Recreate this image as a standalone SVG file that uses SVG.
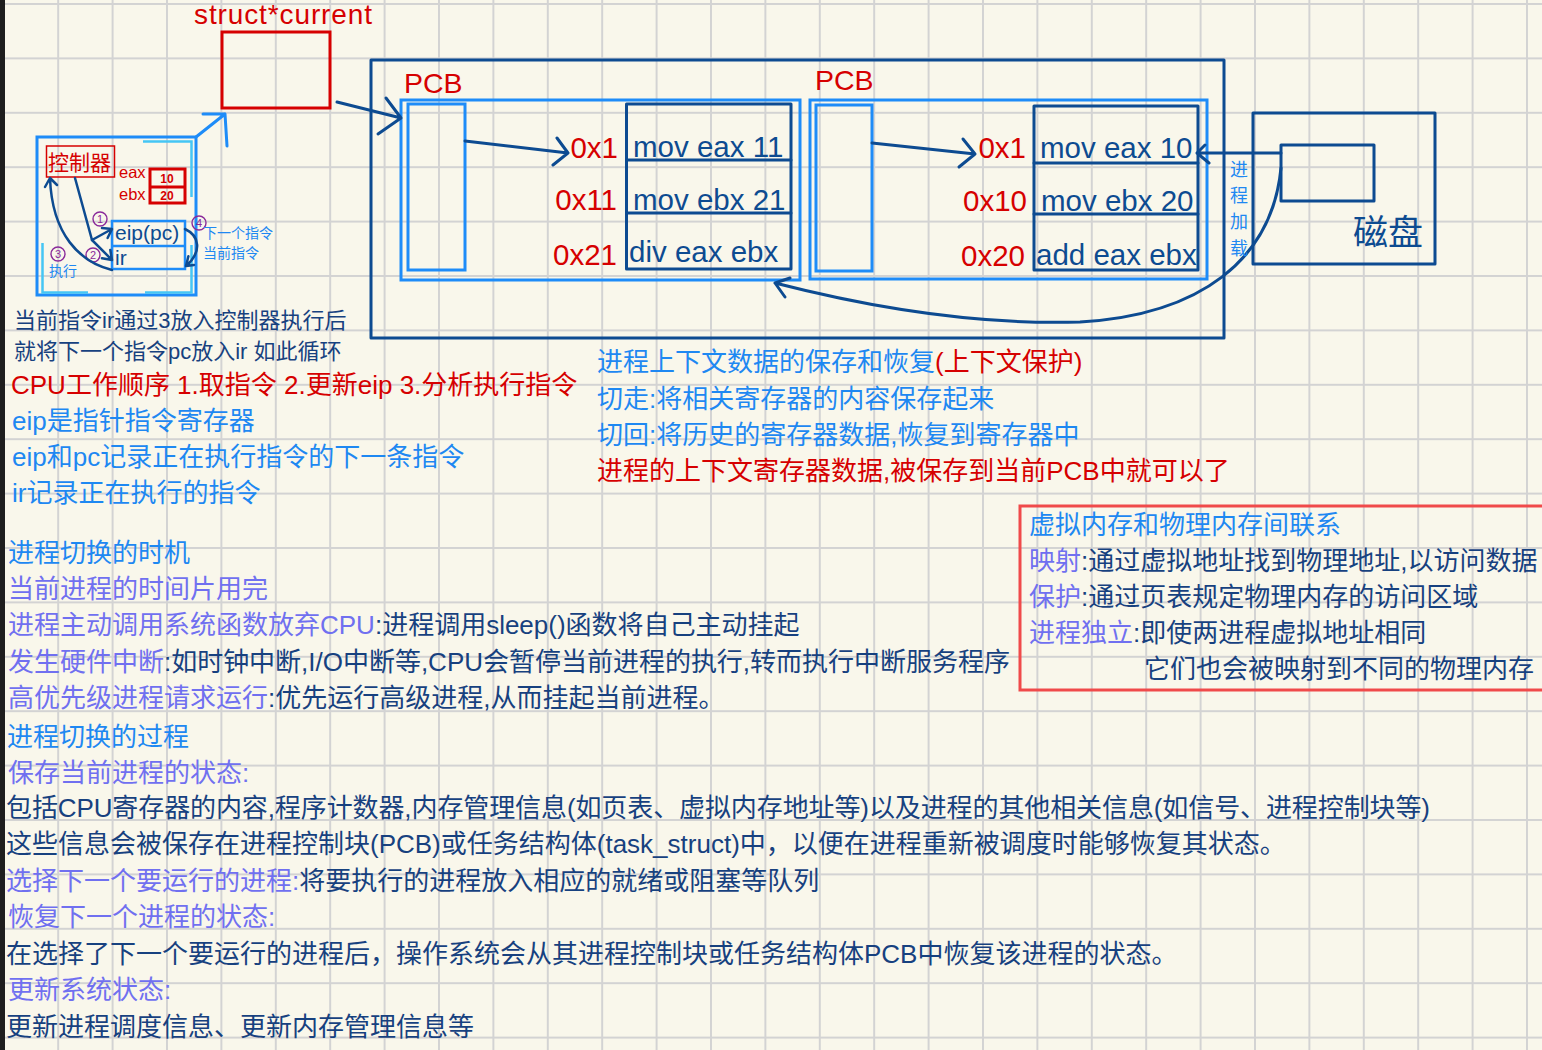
<svg xmlns="http://www.w3.org/2000/svg" width="1542" height="1050" viewBox="0 0 1542 1050">
<defs>
<pattern id="grid" x="2.8" y="3" width="54.4" height="54.4" patternUnits="userSpaceOnUse">
<path d="M1,0V54.4M0,1H54.4" stroke="#d3d3d3" stroke-width="2" fill="none"/>
</pattern>
<style>
text{font-family:"Liberation Sans","Noto Sans CJK SC",sans-serif;}
.nv{stroke:#0d4b91;fill:none;stroke-width:3;stroke-linecap:round;stroke-linejoin:round}
.nv2{stroke:#0d4b91;fill:none;stroke-width:2.5;stroke-linecap:round;stroke-linejoin:round}
.bb{stroke:#1e8cf8;fill:none;stroke-width:3}
.cy{stroke:#45c6f5;fill:none;stroke-width:2.5}
.red{fill:#d60000}
.navy{fill:#17417f}
.blue{fill:#1e88f2}
.pur{fill:#7070f0}
.dk{fill:#0d4b91}
.f26{font-size:26px}
.f22{font-size:22px}
.code{font-size:29.5px}
.circ{stroke:#8a2a9a;fill:none;stroke-width:1.4}
.num{fill:#8a2a9a;font-size:11px;text-anchor:middle}
</style>
</defs>
<rect width="1542" height="1050" fill="#f9f7eb"/>
<rect width="1542" height="1050" fill="url(#grid)"/>
<rect width="5" height="1050" fill="#1e1e1e"/>

<g id="current">
<rect x="222" y="32" width="108" height="76" fill="none" stroke="#d60000" stroke-width="3"/>
<text x="194" y="24" class="red" font-size="28" textLength="178">struct*current</text>
</g>

<g id="cpu">
<rect x="37" y="137" width="159" height="158" class="bb"/>
<path class="cy" d="M143,141.5H191.5V197M42.5,243V292.5H88M145,292.5H191.5V245"/>
<rect x="46.5" y="146" width="68" height="31" fill="none" stroke="#d60000" stroke-width="1.5"/>
<text x="48" y="170" class="red" font-size="21">控制器</text>
<text x="119" y="178" class="red" font-size="16.5">eax</text>
<text x="119" y="200" class="red" font-size="16.5">ebx</text>
<rect x="150" y="169" width="35" height="34" fill="none" stroke="#d60000" stroke-width="3"/>
<line x1="150" y1="187" x2="185" y2="187" stroke="#d60000" stroke-width="3"/>
<text x="167" y="183" class="red" font-size="12" font-weight="bold" text-anchor="middle">10</text>
<text x="167" y="200" class="red" font-size="12" font-weight="bold" text-anchor="middle">20</text>
<rect x="112" y="221" width="73" height="48" fill="none" stroke="#1e8cf8" stroke-width="2.5"/>
<line x1="112" y1="246" x2="185" y2="246" stroke="#1e8cf8" stroke-width="2.5"/>
<text x="115" y="240" class="dk" font-size="21">eip(pc)</text>
<text x="115" y="265" class="dk" font-size="21">ir</text>
<circle cx="100" cy="219" r="7" class="circ"/><text x="100" y="223" class="num">1</text>
<circle cx="93" cy="255" r="7" class="circ"/><text x="93" y="259" class="num">2</text>
<circle cx="58" cy="254" r="7" class="circ"/><text x="58" y="258" class="num">3</text>
<circle cx="199" cy="223" r="7" class="circ"/><text x="199" y="227" class="num">4</text>
<text x="49" y="276" class="blue" font-size="14">执行</text>
<text x="203" y="238" class="blue" font-size="14">下一个指令</text>
<text x="203" y="258" class="blue" font-size="14">当前指令</text>
</g>

<g id="memory">
<rect x="371" y="60" width="853" height="278" class="nv"/>
</g>

<g id="pcb1">
<text x="404" y="93" class="red" font-size="28.5">PCB</text>
<rect x="401" y="100" width="399" height="180" class="bb"/>
<rect x="408" y="104" width="57" height="166" class="bb"/>
<rect x="626.5" y="104" width="164.5" height="165" class="nv"/>
<path class="nv" d="M626.5,160H791M626.5,213H791"/>
<text x="618" y="158" class="red code" text-anchor="end">0x1</text>
<text x="617" y="210" class="red code" text-anchor="end">0x11</text>
<text x="617" y="265" class="red code" text-anchor="end">0x21</text>
<text x="633" y="157" class="dk code">mov eax 11</text>
<text x="633" y="210" class="dk code">mov ebx 21</text>
<text x="629" y="262" class="dk code">div eax ebx</text>
</g>

<g id="pcb2">
<text x="815" y="90" class="red" font-size="28.5">PCB</text>
<rect x="810" y="100" width="397" height="179" class="bb"/>
<rect x="816" y="105" width="56" height="166" class="bb"/>
<rect x="1034" y="106" width="164" height="164" class="nv"/>
<path class="nv" d="M1034,163H1198M1034,214H1198"/>
<text x="1026" y="158" class="red code" text-anchor="end">0x1</text>
<text x="1027" y="211" class="red code" text-anchor="end">0x10</text>
<text x="1025" y="266" class="red code" text-anchor="end">0x20</text>
<text x="1040" y="158" class="dk code">mov eax 10</text>
<text x="1041" y="211" class="dk code">mov ebx 20</text>
<text x="1036" y="265" class="dk code">add eax ebx</text>
</g>

<g id="disk">
<rect x="1253" y="113" width="182" height="151" class="nv"/>
<rect x="1281" y="145" width="93" height="56" class="nv"/>
<text x="1353" y="245" class="dk" font-size="35">磁盘</text>
</g>

<g id="connectors">
<path d="M196,137L225,114M203,114H225L227,146" stroke="#1e8cf8" stroke-width="3" fill="none" stroke-linecap="round" stroke-linejoin="round"/>
<path class="nv" d="M337,102L401,118M386,98L401,118L378,134"/>
<path class="nv" d="M465,141L568,153M557,138L568,153L553,165"/>
<path class="nv" d="M872,143L975,154M963,139L975,154L959,167"/>
<path class="nv" d="M1281,153H1197M1205,145L1197,153L1209,163"/>
<path class="nv" d="M1281,168C1272,260 1200,315 1080,322C980,325 880,310 775,283M785,297L775,283L790,278"/>
<path class="nv2" d="M75,178L92,240L112,229M102,228L112,229L107.6,238"/>
<path class="nv2" d="M92,240L112,260M110.3,250L112,260L102,258.3"/>
<path class="nv2" d="M112,270C80,262 52,235 50,178M45,187L50,178L57,185"/>
<path class="nv2" d="M185,229C200,236 202,252 186,266M194,265L186,266L188.4,256.3"/>
<g class="blue" font-size="18" text-anchor="middle">
<text x="1239" y="176">进</text>
<text x="1239" y="202">程</text>
<text x="1239" y="228">加</text>
<text x="1239" y="255">载</text>
</g>
</g>

<g id="cpu-notes">
<text x="14" y="328" class="navy f22">当前指令ir通过3放入控制器执行后</text>
<text x="14" y="359" class="navy f22">就将下一个指令pc放入ir 如此循环</text>
<text x="11" y="394" class="red f26">CPU工作顺序 1.取指令 2.更新eip 3.分析执行指令</text>
<text x="12" y="430" class="blue f26">eip是指针指令寄存器</text>
<text x="12" y="466" class="blue f26">eip和pc记录正在执行指令的下一条指令</text>
<text x="12" y="502" class="blue f26">ir记录正在执行的指令</text>
</g>

<g id="context-notes" transform="translate(0,2)">
<text x="597" y="369" class="f26"><tspan class="blue">进程上下文数据的保存和恢复</tspan><tspan class="red">(上下文保护)</tspan></text>
<text x="597" y="406" class="blue f26">切走:将相关寄存器的内容保存起来</text>
<text x="597" y="442" class="blue f26">切回:将历史的寄存器数据,恢复到寄存器中</text>
<text x="597" y="478" class="red f26">进程的上下文寄存器数据,被保存到当前PCB中就可以了</text>
</g>

<g id="memory-notes">
<rect x="1020" y="506" width="540" height="184" fill="none" stroke="#f04a4a" stroke-width="3"/>
<g transform="translate(0,2)">
<text x="1029" y="532" class="blue f26">虚拟内存和物理内存间联系</text>
<text x="1029" y="568" class="f26"><tspan class="pur">映射</tspan><tspan class="navy">:通过虚拟地址找到物理地址,以访问数据</tspan></text>
<text x="1029" y="604" class="f26"><tspan class="pur">保护</tspan><tspan class="navy">:通过页表规定物理内存的访问区域</tspan></text>
<text x="1029" y="640" class="f26"><tspan class="pur">进程独立</tspan><tspan class="navy">:即使两进程虚拟地址相同</tspan></text>
<text x="1144" y="676" class="navy f26">它们也会被映射到不同的物理内存</text>
</g>
</g>

<g id="switch-notes" transform="translate(0,3)">
<text x="8" y="559" class="blue f26">进程切换的时机</text>
<text x="8" y="595" class="pur f26">当前进程的时间片用完</text>
<text x="8" y="631" class="f26"><tspan class="pur">进程主动调用系统函数放弃CPU</tspan><tspan class="navy">:进程调用sleep()函数将自己主动挂起</tspan></text>
<text x="8" y="668" class="f26" textLength="1002"><tspan class="pur">发生硬件中断</tspan><tspan class="navy">:如时钟中断,I/O中断等,CPU会暂停当前进程的执行,转而执行中断服务程序</tspan></text>
<text x="8" y="704" class="f26"><tspan class="pur">高优先级进程请求运行</tspan><tspan class="navy">:优先运行高级进程,从而挂起当前进程。</tspan></text>
<text x="7" y="743" class="blue f26">进程切换的过程</text>
<text x="8" y="779" class="pur f26">保存当前进程的状态:</text>
<text x="6" y="814" class="navy f26" textLength="1424">包括CPU寄存器的内容,程序计数器,内存管理信息(如页表、虚拟内存地址等)以及进程的其他相关信息(如信号、进程控制块等)</text>
<text x="6" y="850" class="navy f26">这些信息会被保存在进程控制块(PCB)或任务结构体(task_struct)中，以便在进程重新被调度时能够恢复其状态。</text>
<text x="6" y="887" class="f26"><tspan class="pur">选择下一个要运行的进程:</tspan><tspan class="navy">将要执行的进程放入相应的就绪或阻塞等队列</tspan></text>
<text x="8" y="923" class="pur f26">恢复下一个进程的状态:</text>
<text x="6" y="960" class="navy f26">在选择了下一个要运行的进程后，操作系统会从其进程控制块或任务结构体PCB中恢复该进程的状态。</text>
<text x="8" y="996" class="pur f26">更新系统状态:</text>
<text x="6" y="1033" class="navy f26">更新进程调度信息、更新内存管理信息等</text>
</g>
</svg>
